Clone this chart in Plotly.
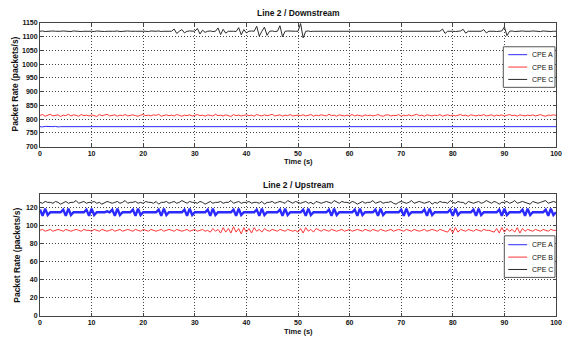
import numpy as np
import plotly.graph_objects as go

# sampling grid (s)
time_s = np.linspace(0, 100, 201)

series_names = ["CPE A", "CPE B", "CPE C"]

ds_cpe_a = [
773,772,774,773,772,773,774,772,773,773, 774,772,773,772,774,773,773,772,774,773,
772,773,774,773,772,773,772,774,773,772, 773,774,772,773,773,772,774,773,772,773,
774,773,772,773,774,772,773,773,772,774, 773,772,773,774,773,772,773,772,774,773,
772,773,774,772,773,773,774,772,773,772, 773,774,773,772,773,772,774,773,773,772,
774,773,772,773,772,774,773,772,773,774, 772,773,773,774,772,773,772,773,774,773,
772,774,773,772,773,773,772,774,773,772, 773,774,772,773,773,772,774,773,772,773,
773,772,774,773,772,773,774,772,773,773, 772,774,773,772,773,774,773,772,773,772,
774,773,772,773,773,774,772,773,772,774, 773,772,773,774,772,773,773,772,774,773,
772,773,774,773,772,773,772,774,773,772, 773,774,772,773,773,772,774,773,772,773,
774,773,772,773,774,772,773,773,772,774, 773,772,773,774,773,772,773,772,774,773,
773]

ds_cpe_b = [
814,817,811,815,818,812,814,816,810,815, 813,818,812,816,814,811,817,813,815,812,
816,814,810,817,813,815,818,812,814,816, 811,815,813,817,812,814,816,813,811,815,
817,813,815,812,816,814,818,811,814,816, 813,815,812,817,814,811,815,813,816,812,
814,817,813,815,811,816,814,812,818,813, 815,812,816,814,810,817,813,815,812,814,
816,813,815,811,817,814,812,816,813,815, 818,812,814,816,811,815,813,817,812,814,
815,813,816,812,814,817,811,815,813,816, 814,812,818,813,815,811,816,814,812,815,
813,817,812,815,814,811,816,813,815,812, 814,817,813,811,815,816,812,814,813,817,
811,815,813,816,812,814,818,813,815,811, 816,814,812,815,813,817,811,814,816,813,
815,812,814,817,813,815,811,816,814,812, 815,813,817,812,814,816,811,815,813,816,
812,814,817,813,815,811,816,814,812,815, 813,816,812,814,817,813,811,815,814,816,
814]

ds_cpe_c = [
1120,1121,1119,1120,1120,1121,1120,1119,1120,1121, 1120,1120,1119,1121,1120,1120,1119,1120,1121,1120,
1120,1119,1121,1120,1120,1119,1120,1121,1120,1120, 1121,1119,1120,1120,1121,1120,1119,1120,1120,1121,
1120,1120,1119,1121,1120,1120,1121,1119,1120,1120, 1121,1120,1128,1112,1120,1126,1114,1120,1121,1120,
1120,1130,1110,1124,1116,1120,1121,1119,1120,1132, 1108,1127,1113,1120,1121,1120,1119,1133,1107,1126,
1114,1120,1121,1120,1138,1102,1120,1135,1105,1120, 1121,1119,1120,1140,1100,1120,1121,1120,1119,1120,
1120,1148,1096,1120,1121,1119,1120,1120,1121,1120, 1119,1120,1121,1120,1120,1119,1121,1120,1120,1121,
1120,1119,1120,1121,1120,1120,1119,1121,1120,1120, 1121,1119,1120,1120,1121,1120,1119,1120,1121,1120,
1120,1121,1119,1120,1120,1121,1120,1119,1120,1120, 1121,1120,1119,1120,1121,1120,1128,1112,1120,1121,
1120,1119,1120,1121,1127,1113,1120,1120,1121,1119, 1120,1120,1126,1114,1120,1121,1120,1119,1120,1121,
1136,1104,1120,1121,1119,1120,1120,1121,1120,1119, 1120,1121,1120,1120,1119,1121,1120,1120,1119,1120,
1120]

us_cpe_a = [
118,111,119,112,115,115,115,115,115,118, 111,119,112,115,115,115,115,115,118,111,
119,112,115,115,115,115,116,115,118,111, 119,112,115,115,115,115,118,111,119,112,
115,115,115,115,115,115,118,111,119,112, 115,115,115,115,115,115,118,111,119,112,
115,115,115,115,115,118,111,119,112,115, 115,115,115,115,115,118,111,119,112,115,
115,115,115,115,118,111,119,112,115,115, 115,115,115,118,111,119,112,115,115,115,
115,115,118,111,119,112,115,115,115,115, 115,115,118,111,119,112,115,115,115,115,
115,115,118,111,119,112,115,115,115,115, 118,111,119,112,115,115,115,115,115,115,
118,111,119,112,115,115,115,115,115,118, 111,119,112,115,115,115,115,115,115,118,
111,119,112,115,115,115,115,115,118,111, 119,112,115,115,115,115,115,115,118,111,
119,112,115,115,115,115,115,118,111,119, 112,115,115,115,115,115,118,111,119,112,
115]

us_cpe_b = [
95,96,94,95,96,94,95,96,95,94, 96,95,94,95,96,95,94,96,95,95,
94,96,95,94,96,95,94,95,96,94, 95,96,94,95,96,95,94,96,95,94,
96,95,94,96,95,94,95,96,94,95, 96,95,94,96,95,94,95,96,94,95,
96,94,95,96,94,95,93,97,94,96, 92,98,93,97,92,99,93,97,91,98,
93,97,92,98,94,96,93,97,95,94, 96,95,94,96,95,94,96,95,94,95,
93,97,92,98,94,96,93,97,95,94, 96,95,94,96,95,94,95,96,94,95,
96,94,95,96,95,94,96,95,94,96, 95,94,96,95,94,95,96,94,95,96,
95,94,96,95,94,96,95,94,95,96, 94,95,96,95,94,96,95,94,93,97,
92,98,93,96,95,94,96,95,94,96, 95,94,96,95,95,94,93,97,92,98,
93,97,94,96,93,98,92,97,94,96, 95,94,96,95,94,96,95,94,96,95,
95]

us_cpe_c = [
126,125,127,126,126,125,127,126,124,126, 127,125,126,126,128,125,126,127,125,126,
126,127,125,126,124,126,127,126,125,126, 127,125,126,128,125,126,126,127,125,126,
125,127,126,126,125,127,124,126,126,127, 125,126,127,125,126,128,126,125,127,126,
126,125,127,126,124,126,127,125,126,126, 127,125,126,126,128,125,126,127,125,126,
126,127,125,126,126,125,127,124,126,126, 127,125,126,127,126,125,128,126,125,127,
126,125,126,127,125,126,124,127,126,125, 126,127,126,125,128,126,125,127,126,126,
125,127,126,124,126,127,125,126,126,128, 125,126,127,125,126,126,127,125,124,126,
127,126,125,126,128,125,126,127,126,125, 126,127,124,126,125,127,126,126,125,128,
126,125,127,126,126,124,127,126,125,126, 127,125,126,128,126,125,127,126,124,126,
126,127,125,126,128,125,126,127,126,125, 124,127,126,125,126,127,128,125,126,127,
126]

colors = ["#2a2aff", "#ff3535", "#2a2a2a"]
us_widths = [2.4, 1, 1]

FONT = "Liberation Sans, Arial, sans-serif"
W, H = 574, 338
ML, MR, MT, MB = 40, 15, 23, 19
PW, PH = W - ML - MR, H - MT - MB


def px_x(px):
    return (px - ML) / PW


def px_y(py):
    return (H - MB - py) / PH


fig = go.Figure()
for name, ys, col in zip(series_names, [ds_cpe_a, ds_cpe_b, ds_cpe_c], colors):
    fig.add_trace(go.Scatter(x=time_s, y=ys, mode="lines", name=name,
                             line=dict(color=col, width=1), xaxis="x", yaxis="y",
                             showlegend=False))
for name, ys, col, w in zip(series_names, [us_cpe_a, us_cpe_b, us_cpe_c], colors, us_widths):
    fig.add_trace(go.Scatter(x=time_s, y=ys, mode="lines", name=name,
                             line=dict(color=col, width=w), xaxis="x2", yaxis="y2",
                             showlegend=False))

axis_common = dict(showline=True, linecolor="#444", linewidth=1, mirror="allticks",
                   ticks="inside", ticklen=3, tickcolor="#444",
                   showgrid=True, gridcolor="#444", griddash="1px,2px", gridwidth=1,
                   zeroline=False,
                   tickfont=dict(family=FONT, size=7, color="#111", weight="bold"))

top_dom = [px_y(148), px_y(23)]
bot_dom = [px_y(319), px_y(196)]

fig.update_layout(
    width=W, height=H,
    margin=dict(l=ML, r=MR, t=MT, b=MB),
    paper_bgcolor="white", plot_bgcolor="white",
    showlegend=False,
    xaxis=dict(domain=[0, 1], anchor="y", range=[0, 100], dtick=10, **axis_common),
    yaxis=dict(domain=top_dom, anchor="x", range=[700, 1150], dtick=50, **axis_common),
    xaxis2=dict(domain=[0, 1], anchor="y2", range=[0, 100], dtick=10, **axis_common),
    yaxis2=dict(domain=bot_dom, anchor="x2", range=[0, 135],
                tickvals=[0, 20, 40, 60, 80, 100, 120], **axis_common),
)

label_font = dict(family=FONT, size=8.5, color="#111", weight="bold")
xlabel_font = dict(family=FONT, size=7.5, color="#111", weight="bold")
ann = []
shapes = []


def add_text(text, x, y, font, angle=0, xanchor="center"):
    ann.append(dict(text=text, x=x, y=y, xref="paper", yref="paper",
                    xanchor=xanchor, yanchor="middle", textangle=angle,
                    showarrow=False, font=font))


cx = px_x((ML + W - MR) / 2)
add_text("Line 2 / Downstream", cx, px_y(13), label_font)
add_text("Line 2 / Upstream", cx, px_y(187), label_font)
add_text("Time (s)", cx, px_y(163), xlabel_font)
add_text("Time (s)", cx, px_y(334.5), xlabel_font)
add_text("Packet Rate (packets/s)", px_x(15), px_y(85), label_font, angle=-90)
add_text("Packet Rate (packets/s)", px_x(16), px_y(258), label_font, angle=-90)

# legends drawn as boxes with sample lines
leg_font = dict(family=FONT, size=7, color="#111")
for (bx0, bx1, by0, by1, item_ys) in [
    (506, 558, 47, 88, [55, 67.5, 80]),
    (507, 558, 238, 280, [247, 259.5, 272]),
]:
    shapes.append(dict(type="rect", xref="paper", yref="paper",
                       x0=px_x(bx0), x1=px_x(bx1), y0=px_y(by1), y1=px_y(by0),
                       line=dict(color="#555", width=1), fillcolor="white", layer="above"))
    for name, col, iy in zip(series_names, colors, item_ys):
        shapes.append(dict(type="line", xref="paper", yref="paper",
                           x0=px_x(511), x1=px_x(530), y0=px_y(iy), y1=px_y(iy),
                           line=dict(color=col, width=1), layer="above"))
        add_text(name, px_x(533), px_y(iy), leg_font, xanchor="left")

fig.update_layout(annotations=ann, shapes=shapes)

fig.write_html("out.html")
